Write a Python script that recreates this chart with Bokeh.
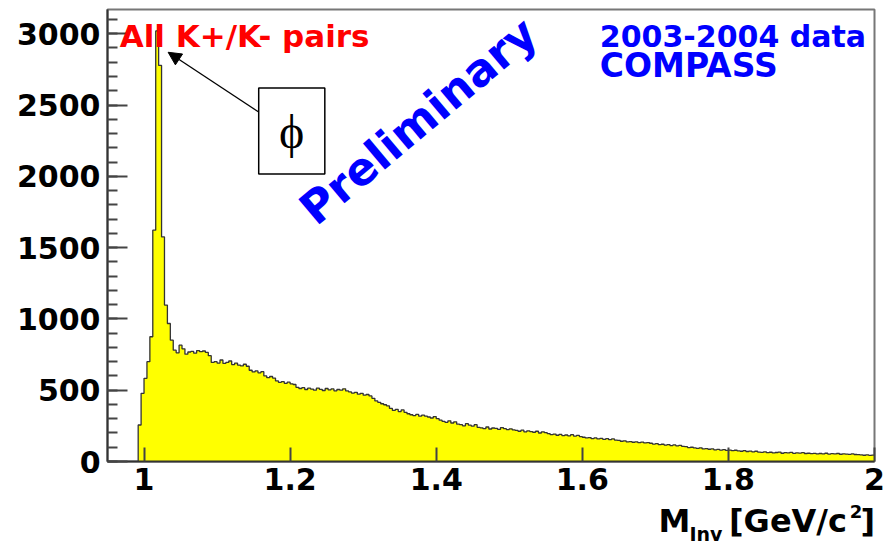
import numpy as np
from bokeh.plotting import figure
from bokeh.layouts import column
from bokeh.embed import file_html
from bokeh.resources import INLINE
from bokeh.models import (Range1d, SingleIntervalTicker, FixedTicker, Label,
                          BoxAnnotation, Arrow, NormalHead)

# ---------------- data ----------------
bin_lo = 0.992
bin_w = 0.004
counts = [
    256, 478, 583, 700, 875, 1622, 3020, 2778, 1575, 1097,
    968, 851, 781, 762, 816, 790, 753, 768, 772, 760,
    778, 770, 775, 765, 742, 695,
    700, 690, 712, 688, 695, 705, 680, 690,
    676, 670, 682, 668,
    640, 628, 635, 622, 630,
    600, 588, 596, 585,
    565, 555, 560, 548, 556, 545, 540,
    520, 512, 518, 505, 514, 508, 500, 515, 506, 498, 512, 503, 509, 496, 505, 500, 510, 495,
    488, 480, 485, 472, 478, 465, 470, 460,
    443, 425, 415, 405, 398, 390,
    372, 358, 365, 350, 362, 345,
    335, 328, 322, 330, 318, 325,
    318, 312, 305, 315, 300,
    290, 282, 275, 285, 270, 278,
    262, 258, 250, 265, 255, 248, 258,
    240, 236, 230, 242, 228, 235, 232, 225, 238, 230, 224, 229, 222,
    218, 212, 220, 208, 215, 210, 205, 212, 200, 208, 202,
    195, 188, 192, 184, 190, 182, 186, 180, 188, 178, 183, 175,
    170, 165, 168, 160, 165, 158, 162, 155, 160, 153, 158, 150,
    148, 142, 145, 138, 140, 135, 138, 132, 136, 130, 133,
    128, 122, 125, 118, 121, 115, 119, 112, 116, 110, 113, 106,
    104, 98, 100, 95, 92, 96, 88, 90, 86, 88, 82, 85, 80, 83, 78, 80,
    76, 79, 74, 72, 76, 70, 73, 68, 72,
    66, 64, 68, 62, 65, 60, 63, 66, 58, 62, 60, 64, 57, 61, 59, 62, 56,
    58, 55, 57, 53, 56, 54, 58, 52, 55, 53, 56, 51, 54, 52, 50, 53, 49,
    48, 46, 44, 47, 43, 45,
]
x_ticks = [1.0, 1.2, 1.4, 1.6, 1.8, 2.0]
x_tick_labels = ["1", "1.2", "1.4", "1.6", "1.8", "2"]
x_lim = (0.95, 2.0)
y_lim = (0, 3170)

# ---------------- build outline ----------------
edges = bin_lo + bin_w * np.arange(len(counts) + 1)
c = np.asarray(counts, dtype=float)
ox = np.concatenate([[edges[0]], np.repeat(edges, 2)[1:-1]])
oy = np.concatenate([[0.0], np.repeat(c, 2)])

FONT = "DejaVu Sans"
W = 896

p = figure(width=W, height=502, x_range=Range1d(*x_lim), y_range=Range1d(*y_lim),
           output_backend="svg", toolbar_location=None,
           min_border_left=107, min_border_right=22, min_border_top=9, min_border_bottom=41)
p.background_fill_color = "white"
p.border_fill_color = "white"
p.xgrid.visible = False
p.ygrid.visible = False
p.outline_line_color = "#777777"
p.outline_line_width = 2

p.varea(x=ox, y1=0, y2=oy, fill_color="#ffff00")
p.line(ox, oy, line_color="#333333", line_width=1.3)

# axes
p.xaxis.ticker = FixedTicker(ticks=x_ticks)
p.xaxis.major_label_overrides = dict(zip(x_ticks, x_tick_labels))
p.xaxis.major_tick_in = 14
p.xaxis.major_tick_out = 0
p.xaxis.minor_tick_in = 0
p.xaxis.minor_tick_out = 0
p.xaxis.major_label_standoff = 6

p.yaxis.ticker = SingleIntervalTicker(interval=500, num_minor_ticks=5)
p.yaxis.major_tick_in = 20
p.yaxis.major_tick_out = 0
p.yaxis.minor_tick_in = 10
p.yaxis.minor_tick_out = 0
p.yaxis.major_label_standoff = 7

for ax in (p.xaxis, p.yaxis):
    ax.axis_line_color = "#333333"
    ax.axis_line_width = 2
    ax.major_tick_line_color = "#444444"
    ax.major_tick_line_width = 2
    ax.minor_tick_line_color = "#444444"
    ax.minor_tick_line_width = 2
    ax.major_label_text_font = FONT
    ax.major_label_text_font_style = "bold"
    ax.major_label_text_font_size = "30px"
    ax.major_label_text_color = "black"

# texts
mid = dict(text_font=FONT, text_font_style="bold", text_baseline="middle")
p.add_layout(Label(x=0.9667, y=2984, text="All K+/K- pairs", text_color="#ff0000",
                   text_font_size="31px", **mid))
p.add_layout(Label(x=1.624, y=2984, text="2003-2004 data", text_color="#0000ff",
                   text_font_size="30px", **mid))
p.add_layout(Label(x=1.624, y=2780, text="COMPASS", text_color="#0000ff",
                   text_font_size="33px", **mid))
p.add_layout(Label(x=1.3757, y=2388, text="Preliminary", text_color="#0000ff",
                   text_font_size="45px", text_align="center", angle=np.deg2rad(40), **mid))

# phi box and arrow
p.add_layout(BoxAnnotation(left=1.157, right=1.2475, top=2619, bottom=2016,
                           fill_alpha=0, line_color="black", line_alpha=1.0, line_width=1.5))
p.add_layout(Label(x=1.202, y=2317, text="\u03d5", text_color="black",
                   text_font="Liberation Serif", text_font_size="48px",
                   text_align="center", text_baseline="middle"))
p.add_layout(Arrow(x_start=1.157, y_start=2451, x_end=1.033, y_end=2870,
                   line_color="black", line_width=1.3,
                   end=NormalHead(size=13, fill_color="black", line_color="black")))

# ---------------- axis title strip ----------------
p2 = figure(width=W, height=47, x_range=p.x_range, y_range=Range1d(0, 47),
            output_backend="svg", toolbar_location=None,
            min_border_left=107, min_border_right=22, min_border_top=0, min_border_bottom=0,
            x_axis_type=None, y_axis_type=None)
p2.outline_line_color = None
p2.background_fill_color = "white"
p2.border_fill_color = "white"

p2.add_layout(Label(x=1.7043, y=28.5, text="M", text_font_size="32px", text_color="black", **mid))
p2.add_layout(Label(x=1.7467, y=16, text="Inv", text_font_size="19px", text_color="black", **mid))
p2.add_layout(Label(x=1.8008, y=28.5, text="[GeV/c", text_font_size="32px", text_color="black", **mid))
p2.add_layout(Label(x=1.966, y=38, text="2", text_font_size="18px", text_color="black", **mid))
p2.add_layout(Label(x=1.981, y=28.5, text="]", text_font_size="32px", text_color="black", **mid))

layout = column(p, p2, spacing=0)
open("out.html", "w").write(file_html(layout, INLINE))
